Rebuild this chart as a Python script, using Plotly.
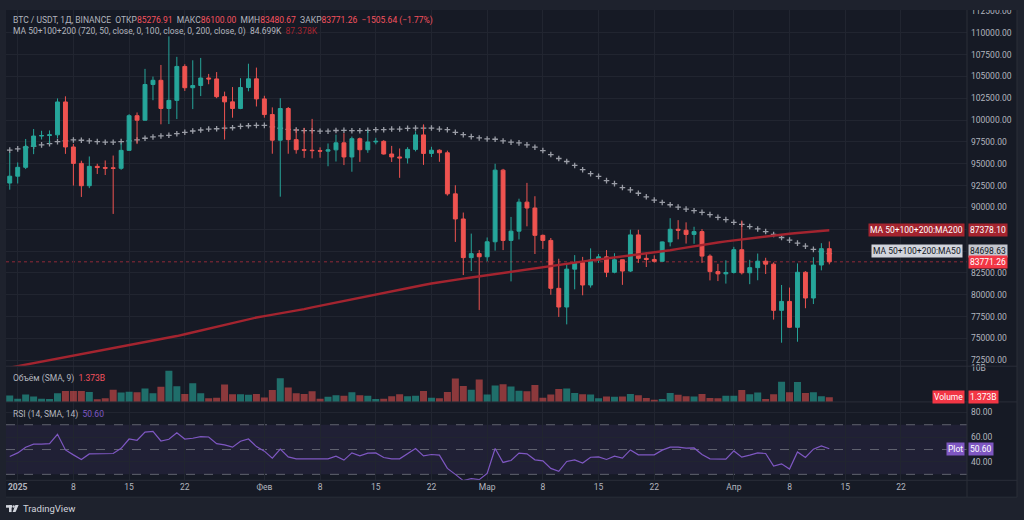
import pandas as pd
import plotly.graph_objects as go

W, H = 1024, 520


def px(x):
    return x / W


def py(y):
    return 1 - y / H


# daily BTC/USDT candles, 31 Dec 2024 .. 13 Apr 2025
dates = pd.date_range("2024-12-31", "2025-04-13", freq="D")

opens = [92792,
         93576, 94592, 96985, 98174, 98236, 98314, 102078, 96922, 95043, 92484,
         94701, 94566, 94530, 94480, 96534, 100505, 99988, 104077, 104557, 101331,
         102260, 106144, 103706, 103960, 104819, 104714, 102682, 102088, 101332, 103734,
         104722,
         102429, 100635, 97700, 101328, 97763, 96613, 96554, 96506, 96445, 96593,
         97395, 95778, 97870, 96608, 97500, 97569, 96118, 95780, 95671, 96644,
         98305, 96181, 96551, 96258, 91552, 88680, 84250, 84708,
         84349, 86064, 94270, 86221, 87281, 90606, 89931, 86801, 86222, 80734,
         78595, 82932, 83680, 81115, 83983, 84338, 82574, 84010, 82716, 86854,
         84167, 84043, 83832, 86054, 87498, 87391, 86909, 87232, 84424, 82648,
         82390,
         82550, 85159, 82516, 83102, 83843, 83504, 78214, 79235, 76272, 82573,
         79626, 83404, 85276.91]
highs = [96250,
         95151, 97839, 98976, 98778, 98813, 102482, 102724, 97258, 95350, 95836,
         95000, 95378, 95940, 97371, 100681, 100873, 105865, 104988, 106315, 109588,
         107240, 106395, 106850, 107120, 105286, 105500, 103260, 103784, 104800, 106457,
         106012,
         102783, 101456, 102500, 101500, 99000, 99120, 100137, 96880, 97323, 98345,
         98500, 98119, 98000, 98826, 97972, 97704, 97046, 96753, 96899, 98711,
         99508, 96943, 96650, 96500, 92540, 89414, 87000, 85120,
         86558, 95000, 94416, 88911, 91000, 92810, 91283, 86897, 86500, 84123,
         83617, 84539, 84336, 85310, 84672, 85117, 84756, 84021, 87453, 87443,
         84850, 84513, 86094, 88765, 88542, 88292, 87786, 87515, 84624, 83534,
         83943,
         85487, 88500, 83998, 84720, 84234, 83704, 81119, 80823, 83588, 82700,
         84300, 85905, 86100]
lows = [92033,
        92743, 94392, 96100, 97781, 97291, 97926, 96132, 92500, 91200, 92207,
        93831, 93712, 89256, 94306, 96500, 97256, 99950, 102278, 99519, 99550,
        100120, 103339, 101262, 102750, 104106, 102505, 97777, 100273, 101250, 103300,
        101560,
        100279, 96150, 91231, 96150, 96155, 95676, 95620, 95688, 94713, 95257,
        94850, 94088, 95217, 96252, 97223, 96046, 95205, 93388, 95029, 96415,
        94871, 95771, 95227, 91350, 86050, 82256, 82716, 78258,
        83824, 85050, 85117, 81529, 86334, 87836, 84667, 85248, 80000, 77459,
        76606, 80620, 79939, 80818, 83639, 82017, 82457, 81134, 82600, 83647,
        83175, 83674, 83795, 85541, 86346, 85861, 85837, 83647, 81644, 81565,
        81278,
        82429, 82320, 81211, 81659, 82373, 77153, 74508, 76198, 74620, 78456,
        78936, 82792, 83480.67]
closes = [93576,
          94592, 96985, 98174, 98236, 98314, 102078, 96922, 95043, 92484, 94701,
          94566, 94488, 94480, 96534, 100505, 99988, 104077, 104557, 101331, 102260,
          106144, 103706, 103960, 104819, 104714, 102682, 102088, 101332, 103734, 104722,
          102429,
          100635, 97700, 101328, 97763, 96613, 96554, 96506, 96445, 96593, 97395,
          95778, 97870, 96608, 97500, 97569, 96118, 95780, 95671, 96644, 98305,
          96181, 96551, 96258, 91552, 88680, 84250, 84708, 84349,
          86064, 94270, 86221, 87281, 90606, 89931, 86801, 86222, 80734, 78595,
          82932, 83680, 81115, 83983, 84338, 82574, 84010, 82716, 86854, 84167,
          84043, 83832, 86054, 87498, 87391, 86909, 87232, 84424, 82648, 82390,
          82550,
          85159, 82516, 83102, 83843, 83504, 78214, 79235, 76272, 82573, 79626,
          83404, 85276.91, 83771.26]

# volume, billions USDT
volumes = [1.90,
           0.95, 2.19, 1.62, 0.95, 0.86, 2.57, 3.23, 3.23, 3.23, 2.95,
           0.76, 1.05, 3.61, 2.76, 3.04, 2.85, 3.99, 2.57, 4.47, 9.22,
           4.66, 2.38, 5.51, 2.57, 1.05, 1.24, 5.13, 2.28, 2.28, 2.09,
           2.38,
           1.33, 3.52, 7.03, 4.28, 2.57, 2.38, 3.14, 0.95, 1.52, 2.00,
           1.81, 2.85, 2.00, 1.81, 0.86, 0.95, 1.71, 2.28, 1.71, 1.81,
           3.23, 1.24, 1.05, 2.95, 6.94, 4.75, 3.61, 6.65,
           2.19, 4.85, 5.23, 4.56, 3.33, 3.14, 5.04, 1.24, 2.19, 3.80,
           3.99, 2.66, 2.28, 2.19, 1.05, 1.62, 1.52, 1.62, 2.38, 2.00,
           1.14, 0.67, 0.86, 2.66, 2.09, 1.71, 1.62, 2.38, 1.14, 1.05,
           1.81,
           1.81, 3.52, 2.28, 2.76, 0.86, 2.28, 5.99, 2.85, 5.89, 2.66,
           2.85, 1.71, 1.373]

ma50 = [96557,
        96705, 96864, 97011, 97160, 97307, 97534, 97636, 97727, 97693, 97614,
        97534, 97466, 97466, 97534, 97614, 97727, 97920, 98068, 98182, 98261,
        98443, 98602, 98750, 98864, 98977, 99011, 99091, 99125, 99284, 99352,
        99398,
        99398, 99227, 99068, 98943, 98864, 98784, 98784, 98727, 98727, 98807,
        98830, 98784, 98784, 98830, 98898, 98898, 98977, 98977, 99057, 99091,
        99091, 99091, 98977, 98898, 98602, 98330, 98102, 97955,
        97841, 97807, 97614, 97466, 97386, 97159, 96898, 96511, 96057, 95602,
        95261, 94807, 94318, 93864, 93557, 93068, 92727, 92273, 92011, 91625,
        91216, 90830, 90568, 90307, 90034, 89807, 89625, 89432, 89170, 88864,
        88602,
        88295, 88068, 87807, 87534, 87239, 86898, 86557, 86250, 85909, 85568,
        85193, 84950, 84699]

ma200 = [71650,
         71820, 71990, 72160, 72330, 72500, 72670, 72840, 73000, 73165, 73330,
         73495, 73660, 73825, 73990, 74160, 74340, 74520, 74700, 74880, 75070,
         75270, 75480, 75700, 75920, 76140, 76360, 76580, 76800, 77010, 77210,
         77390,
         77550, 77700, 77850, 78010, 78180, 78360, 78550, 78740, 78930, 79120,
         79310, 79500, 79690, 79880, 80070, 80260, 80440, 80610, 80780, 80950,
         81120, 81290, 81450, 81590, 81720, 81850, 81980, 82110,
         82240, 82390, 82540, 82690, 82840, 82970, 83100, 83220, 83340, 83460,
         83580, 83700, 83820, 83930, 84040, 84150, 84260, 84370, 84480, 84590,
         84700, 84810, 84940, 85090, 85250, 85410, 85570, 85730, 85870, 85990,
         86110,
         86230, 86350, 86470, 86590, 86710, 86820, 86910, 86990, 87070, 87150,
         87230, 87305, 87378.10]

rsi = [44.4,
       47.3, 51.9, 54.3, 54.3, 54.8, 62.3, 49.7, 45.7, 42.0, 46.5,
       46.5, 46.5, 46.8, 51.0, 58.5, 57.5, 64.1, 64.7, 56.9, 58.3,
       63.6, 58.5, 59.1, 60.4, 60.1, 54.8, 53.7, 51.9, 56.7, 58.5,
       52.4,
       48.7, 43.1, 50.3, 44.1, 42.5, 42.5, 42.5, 42.5, 42.5, 44.7,
       41.5, 47.3, 44.9, 47.1, 47.3, 43.6, 42.5, 42.5, 46.3, 50.8,
       44.9, 46.0, 45.5, 34.8, 30.0, 24.9, 26.5, 25.7,
       30.8, 50.8, 39.6, 41.2, 47.1, 46.5, 41.7, 40.9, 34.8, 32.4,
       40.4, 41.7, 39.1, 43.8, 44.1, 42.0, 44.7, 43.1, 49.7, 45.7,
       45.7, 45.7, 49.5, 51.9, 51.9, 51.1, 51.3, 46.0, 42.5, 42.3,
       42.3,
       48.9, 43.9, 45.5, 47.3, 46.8, 36.7, 38.5, 34.3, 48.1, 43.6,
       50.3, 52.9, 50.60]

tick_dates = ["2025-01-01", "2025-01-08", "2025-01-15", "2025-01-22",
              "2025-02-01", "2025-02-08", "2025-02-15", "2025-02-22",
              "2025-03-01", "2025-03-08", "2025-03-15", "2025-03-22",
              "2025-04-01", "2025-04-08", "2025-04-15", "2025-04-22"]
tick_text = ["<b>2025</b>", "8", "15", "22", "Фев", "8", "15", "22",
             "Мар", "8", "15", "22", "Апр", "8", "15", "22"]

# colours
BG = "#161A25"
FRAME = "#1E222D"
GRID = "#212530"
SEP = "#2A2E39"
TXT = "#B2B5BE"
UP = "#26A69A"
DOWN = "#EF5350"
RED = "#F7525F"
MA200C = "#A3242F"
MA50C = "#9A9DA6"
RSIC = "#7E57C2"
FONT = "Roboto"

# pixel calibration of the panes
day0 = pd.Timestamp("2025-01-01")
xr = [day0 + pd.Timedelta(days=(6 - 17.7) / 7.957),
      day0 + pd.Timedelta(days=(967 - 17.7) / 7.957)]
price_at = lambda y: 110000 - (y - 29) * 2500 / 22
main_range = [price_at(365), price_at(6)]
vol_range = [0, 10.59]
rsi_range = [25.2, 88.4]

vol_colors = ["rgba(38,166,154,0.6)" if c >= o else "rgba(239,83,80,0.55)"
              for o, c in zip(opens, closes)]

fig = go.Figure()

fig.add_trace(go.Scatter(
    x=dates, y=ma50, mode="markers", xaxis="x", yaxis="y",
    marker=dict(symbol="cross-thin", size=4, color=MA50C,
                line=dict(width=1.3, color=MA50C)),
    hoverinfo="skip"))

fig.add_trace(go.Candlestick(
    x=dates, open=opens, high=highs, low=lows, close=closes,
    xaxis="x", yaxis="y4", whiskerwidth=0,
    increasing=dict(line=dict(color=UP, width=1), fillcolor=UP),
    decreasing=dict(line=dict(color=DOWN, width=1), fillcolor=DOWN),
    hoverinfo="skip"))

fig.add_trace(go.Scatter(
    x=dates, y=ma200, mode="lines", xaxis="x", yaxis="y4",
    line=dict(color=MA200C, width=2.4), hoverinfo="skip"))

fig.add_trace(go.Bar(
    x=dates, y=volumes, xaxis="x2", yaxis="y2",
    marker=dict(color=vol_colors, line=dict(width=0)), hoverinfo="skip"))

fig.add_trace(go.Scatter(
    x=dates, y=rsi, mode="lines", xaxis="x3", yaxis="y3",
    line=dict(color=RSIC, width=1.2), hoverinfo="skip"))

xcommon = dict(domain=[px(6), px(967)], range=xr, type="date",
               tickvals=tick_dates, ticktext=tick_text, showgrid=True,
               gridcolor=GRID, gridwidth=1, zeroline=False, ticks="",
               showline=False, fixedrange=True)
ycommon = dict(side="right", showline=False, zeroline=False, ticks="",
               gridcolor=GRID, gridwidth=1, fixedrange=True,
               tickfont=dict(family=FONT, size=8.5, color=TXT),
               ticklabelstandoff=3)

fig.update_layout(
    width=W, height=H,
    margin=dict(l=0, r=0, t=0, b=0),
    paper_bgcolor=FRAME, plot_bgcolor=BG,
    showlegend=False, hovermode=False, bargap=0.12,
    font=dict(family=FONT, size=8.5, color=TXT),
    xaxis=dict(xcommon, anchor="y", showticklabels=False,
               rangeslider=dict(visible=False)),
    yaxis=dict(ycommon, domain=[py(365), py(6)], anchor="x",
               range=main_range, tickvals=list(range(72500, 112501, 2500)),
               tickformat=".2f"),
    yaxis4=dict(overlaying="y", anchor="x", range=main_range, visible=False,
                fixedrange=True),
    xaxis2=dict(xcommon, anchor="y2", showticklabels=False),
    yaxis2=dict(ycommon, domain=[py(401), py(365)], anchor="x2",
                range=vol_range, tickvals=[10], ticktext=["10B"],
                showgrid=False),
    xaxis3=dict(xcommon, anchor="y3", showticklabels=True,
                tickfont=dict(family=FONT, size=8.5, color=TXT)),
    yaxis3=dict(ycommon, domain=[py(480), py(401)], anchor="x3",
                range=rsi_range, tickvals=[40, 60, 80], tickformat=".2f"),
)

shapes = [
    dict(type="rect", xref="paper", yref="paper", x0=px(6), x1=px(1017),
         y0=py(497), y1=py(6), fillcolor=BG, line=dict(width=0), layer="below"),
    dict(type="rect", xref="paper", yref="y3", x0=px(6), x1=px(967),
         y0=30, y1=70, fillcolor="rgba(126,87,194,0.1)", line=dict(width=0),
         layer="below"),
]
for lvl in [70, 50, 30]:
    shapes.append(dict(type="line", xref="paper", yref="y3", x0=px(6),
                       x1=px(967), y0=lvl, y1=lvl, layer="below",
                       line=dict(color="rgba(120,123,134,0.75)", width=1,
                                 dash="dash")))
shapes.append(dict(type="line", xref="paper", yref="y", x0=px(6), x1=px(967),
                   y0=closes[-1], y1=closes[-1], layer="below",
                   line=dict(color="rgba(242,54,69,0.55)", width=1,
                             dash="dot")))
for yy in [365, 401, 480, 497]:
    shapes.append(dict(type="line", xref="paper", yref="paper", x0=px(6),
                       x1=px(1017), y0=py(yy), y1=py(yy),
                       line=dict(color=SEP, width=1)))
shapes.append(dict(type="line", xref="paper", yref="paper", x0=px(967),
                   x1=px(967), y0=py(497), y1=py(6),
                   line=dict(color=SEP, width=1)))
shapes.append(dict(type="line", xref="paper", yref="paper", x0=px(1017),
                   x1=px(1017), y0=py(497), y1=py(6),
                   line=dict(color=SEP, width=1)))
# top strip of the frame hides the part of the 112500 label above the chart
shapes.append(dict(type="rect", xref="paper", yref="paper", x0=0, x1=1,
                   y0=py(6), y1=1, fillcolor=FRAME, line=dict(width=0)))
# TradingView logo mark
LOGO = "#D1D4DC"
shapes.append(dict(type="rect", xref="paper", yref="paper", x0=px(6),
                   x1=px(12), y0=py(507.6), y1=py(505), fillcolor=LOGO,
                   line=dict(width=0)))
shapes.append(dict(type="rect", xref="paper", yref="paper", x0=px(9),
                   x1=px(11.6), y0=py(512), y1=py(505), fillcolor=LOGO,
                   line=dict(width=0)))
shapes.append(dict(type="circle", xref="paper", yref="paper", x0=px(12.4),
                   x1=px(14.8), y0=py(507.6), y1=py(505.2), fillcolor=LOGO,
                   line=dict(width=0)))
shapes.append(dict(type="path", xref="paper", yref="paper",
                   path="M %f,%f L %f,%f L %f,%f L %f,%f Z" % (
                       px(15.4), py(505), px(18.6), py(505),
                       px(15.6), py(512), px(12.6), py(512)),
                   fillcolor=LOGO, line=dict(width=0)))
fig.update_layout(shapes=shapes)

ann = []


def text_at(x, y, s, size=8.5, color=TXT):
    ann.append(dict(xref="paper", yref="paper", x=px(x), y=py(y), text=s,
                    showarrow=False, xanchor="left", yanchor="middle",
                    font=dict(family=FONT, size=size, color=color)))


def box(x, yref, yval, s, anchor, bg, fg="#FFFFFF", yshift=0):
    ann.append(dict(xref="paper", yref=yref, x=px(x), y=yval, text=s,
                    showarrow=False, xanchor=anchor, yanchor="middle",
                    bgcolor=bg, borderpad=1, yshift=yshift,
                    font=dict(family=FONT, size=8.5, color=fg)))


def c(s, col):
    return "<span style='color:%s'>%s</span>" % (col, s)


sp = "&nbsp;"
text_at(11, 16.7,
        c("BTC / USDT, 1Д, BINANCE" + sp * 2 + "ОТКР", TXT) + c("85276.91", RED)
        + sp * 2 + c("МАКС", TXT) + c("86100.00", RED)
        + sp * 2 + c("МИН", TXT) + c("83480.67", RED)
        + sp * 2 + c("ЗАКР", TXT) + c("83771.26", RED)
        + sp * 2 + c("−1505.64 (−1.77%)", RED))
text_at(11, 27.5,
        c("MA 50+100+200 (720, 50, close, 0, 100, close, 0, 200, close, 0)", TXT)
        + sp * 2 + c("84.699K", TXT) + sp * 2 + c("87.378K", MA200C))
text_at(11, 377, c("Объём (SMA, 9)", TXT) + sp * 2 + c("1.373B", RED))
text_at(11, 413.5, c("RSI (14, SMA, 14)", TXT) + sp * 2 + c("50.60", RSIC))
text_at(21, 508, "TradingView", size=9.5, color=LOGO)

box(965, "y", ma200[-1], "MA 50+100+200:MA200", "right", MA200C)
box(968, "y", ma200[-1], "87378.10", "left", MA200C)
box(963, "y", 84698.63, "MA 50+100+200:MA50", "right", "#D1D4DC", "#131722", 3)
box(968, "y", 84698.63, "84698.63", "left", "#C3C6CE", "#131722", 3)
box(968, "y", closes[-1], "83771.26", "left", "#F23645")
box(965, "y2", volumes[-1], "Volume", "right", "#F23645")
box(968, "y2", volumes[-1], "1.373B", "left", "#F23645")
box(965, "y3", rsi[-1], "Plot", "right", RSIC)
box(968, "y3", rsi[-1], "50.60", "left", RSIC)
fig.update_layout(annotations=ann)

# the page body has a default 8px margin; drop it so the figure sits at 0,0
fig.write_html("out.html", config={"displayModeBar": False},
               post_script="document.body.style.margin='0';")
